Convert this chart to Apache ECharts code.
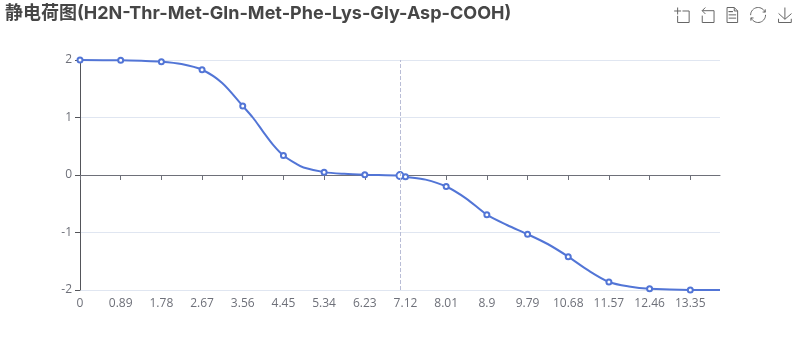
<!DOCTYPE html>
<html><head><meta charset="utf-8">
<script src="https://cdn.jsdelivr.net/npm/echarts@6/dist/echarts.min.js"></script>
<style>html,body{margin:0;padding:0;background:#fff}#c{width:800px;height:360px}</style>
</head><body><div id="c"></div>
<script>
const titleText = '静电荷图(H2N-Thr-Met-Gln-Met-Phe-Lys-Gly-Asp-COOH)';
const tickValues = [0,0.89,1.78,2.67,3.56,4.45,5.34,6.23,7.12,8.01,8.9,9.79,10.68,11.57,12.46,13.35];
const phValues = [0,0.89,1.34,1.78,2.22,2.67,3.11,3.56,3.78,4,4.22,4.45,4.74,4.89,5.34,5.78,6.23,7,7.12,7.56,8.01,8.45,8.9,9.34,9.79,10.23,10.68,11.12,11.57,12.01,12.46,13.35,14];
const charges = [2,1.995,1.985,1.97,1.93,1.83,1.6,1.2,1,0.76,0.53,0.34,0.19,0.13,0.05,0.02,0.005,-0.01,-0.03,-0.08,-0.2,-0.41,-0.69,-0.87,-1.03,-1.2,-1.42,-1.66,-1.86,-1.94,-1.98,-2,-2];
const isoelectricPoint = 7;
const xMax = 14, xStep = 0.89, yMin = -2, yMax = 2, yStep = 1;
const font = '"Open Sans", "Noto Sans CJK SC", sans-serif';
const titleFont = 'Inter, "Noto Sans CJK SC", sans-serif';

const seriesData = phValues.map((x, i) => {
  const item = { value: [x, charges[i]] };
  if (x === isoelectricPoint) item.symbolSize = 7;
  else if (!tickValues.includes(x)) item.symbol = 'none';
  return item;
});

const chart = echarts.init(document.getElementById('c'), null, { renderer: 'canvas' });
chart.setOption({
  animation: false,
  title: { text: titleText, left: 5, top: 5, padding: 0,
    textStyle: { fontSize: 18, fontWeight: 'bold', color: '#464646', fontFamily: titleFont } },
  toolbox: { show: true, right: -9, top: -10, itemSize: 15, itemGap: 8,
    iconStyle: { borderColor: '#666' },
    feature: { dataZoom: {}, dataView: {}, restore: {}, saveAsImage: {} } },
  grid: { left: 80, right: 80, top: 60, bottom: 70 },
  xAxis: { type: 'value', min: 0, max: xMax, interval: xStep,
    splitLine: { show: false },
    axisLine: { show: true, onZero: true, lineStyle: { color: '#6E7079' } },
    axisTick: { show: true, customValues: tickValues, lineStyle: { color: '#6E7079' } },
    axisLabel: { color: '#6E7079', fontSize: 12, customValues: tickValues, fontFamily: font } },
  yAxis: { type: 'value', min: yMin, max: yMax, interval: yStep,
    axisLabel: { color: '#6E7079', fontSize: 12, fontFamily: font },
    splitLine: { lineStyle: { color: '#E0E6F1' } } },
  series: [{
    type: 'line', smooth: 0.3, symbol: 'emptyCircle', symbolSize: 5,
    showAllSymbol: true, data: seriesData,
    itemStyle: { color: '#5275D6' }, lineStyle: { color: '#5275D6', width: 2 },
    markLine: { silent: true, symbol: 'none', label: { show: false },
      lineStyle: { type: 'dashed', color: '#B9BDD6', width: 1 },
      data: [{ xAxis: isoelectricPoint }] }
  }]
});
</script></body></html>
